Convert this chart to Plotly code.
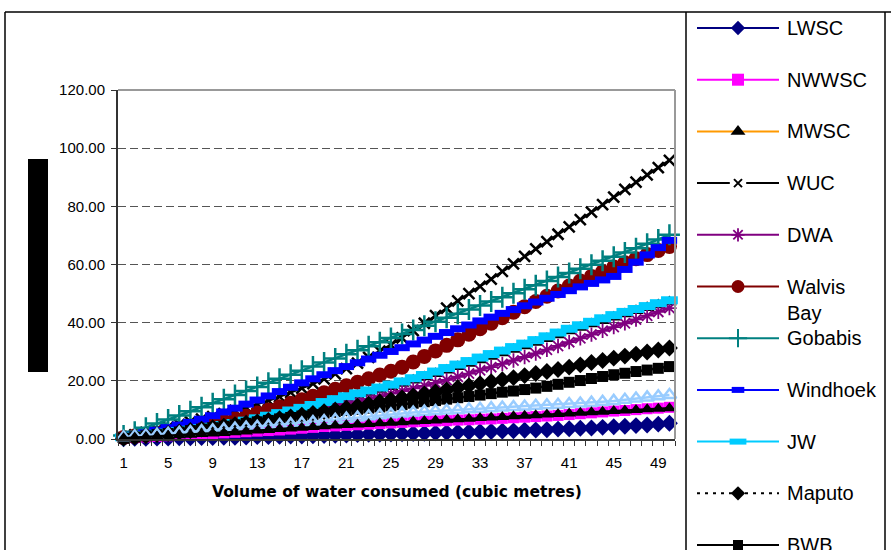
import plotly.graph_objects as go

# ---------------- data ----------------
volume = list(range(1, 51))
x_tick_vals = [1, 5, 9, 13, 17, 21, 25, 29, 33, 37, 41, 45, 49]
x_tick_labels = ["1", "5", "9", "13", "17", "21", "25", "29", "33", "37", "41", "45", "49"]

lwsc = [0.1, 0.2, 0.2, 0.3, 0.3, 0.4, 0.4, 0.5, 0.5, 0.6, 0.6, 0.7, 0.8, 0.8, 0.9, 1.0, 1.0, 1.1, 1.2, 1.3,
        1.4, 1.5, 1.6, 1.6, 1.7, 1.8, 1.9, 2.0, 2.1, 2.2, 2.3, 2.4, 2.5, 2.6, 2.7, 2.8, 3.0, 3.1, 3.2, 3.4,
        3.5, 3.7, 3.8, 4.0, 4.2, 4.4, 4.6, 4.8, 5.1, 5.4]
nwwsc = [0.3, 0.5, 0.7, 0.9, 1.1, 1.3, 1.5, 1.7, 1.9, 2.1, 2.3, 2.5, 2.7, 2.9, 3.1, 3.4, 3.7, 4.0, 4.3, 4.5,
         4.7, 4.9, 5.1, 5.3, 5.5, 5.7, 5.9, 6.0, 6.2, 6.3, 6.5, 6.6, 6.8, 6.9, 7.1, 7.3, 7.5, 7.7, 7.9, 8.1,
         8.4, 8.7, 9.0, 9.3, 9.6, 9.8, 10.1, 10.4, 10.6, 10.9]
mwsc = [0.5, 0.9, 1.3, 1.7, 2.1, 2.6, 3.1, 3.6, 4.1, 4.7, 5.4, 6.1, 6.9, 7.7, 8.6, 9.5, 10.4, 11.3, 12.2, 13.1,
        14.0, 15.0, 16.0, 17.0, 18.0, 19.1, 20.2, 21.3, 22.4, 23.6, 24.8, 26.0, 27.2, 28.4, 29.6, 30.8, 32.0, 33.2, 34.5, 35.8,
        37.1, 38.3, 39.5, 40.7, 41.9, 43.0, 44.1, 45.1, 46.1, 47.1]
wuc = [0.5, 1.4, 2.3, 3.2, 4.1, 5.0, 5.9, 6.8, 7.7, 8.7, 9.8, 10.9, 12.0, 13.2, 14.6, 16.0, 17.5, 19.0, 20.7, 22.4,
       24.2, 26.1, 28.1, 30.2, 32.4, 34.8, 37.3, 39.8, 42.4, 45.0, 47.5, 50.0, 52.5, 55.0, 57.6, 60.2, 62.8, 65.4, 67.9, 70.4,
       72.9, 75.4, 78.0, 80.6, 83.2, 85.8, 88.3, 90.8, 93.3, 95.8]
dwa = [0.4, 0.8, 1.2, 1.6, 2.0, 2.4, 2.9, 3.4, 3.9, 4.4, 5.0, 5.6, 6.2, 6.9, 7.6, 8.3, 9.0, 9.8, 10.6, 11.4,
       12.2, 13.0, 13.8, 14.7, 15.6, 16.5, 17.4, 18.3, 19.3, 20.3, 21.4, 22.5, 23.6, 24.7, 25.8, 27.0, 28.2, 29.4, 30.7, 32.0,
       33.3, 34.6, 35.9, 37.2, 38.5, 39.8, 41.1, 42.4, 43.7, 45.0]
walvis_bay = [0.5, 1.0, 1.5, 2.0, 2.5, 3.1, 3.8, 4.5, 5.3, 6.1, 6.9, 7.8, 8.9, 10.0, 11.1, 12.3, 13.5, 14.7, 15.9, 17.1,
              18.3, 19.5, 20.7, 22.0, 23.3, 24.7, 26.5, 28.4, 30.3, 32.2, 34.1, 36.0, 37.9, 39.8, 41.7, 43.6, 45.5, 47.3, 49.1, 50.9,
              52.6, 54.3, 55.9, 57.5, 59.1, 60.6, 62.0, 63.4, 64.8, 66.2]
gobabis = [1.2, 2.5, 3.9, 5.3, 6.7, 8.1, 9.5, 10.9, 12.3, 13.7, 15.1, 16.5, 17.9, 19.3, 20.7, 22.1, 23.5, 24.9, 26.3, 27.7,
           29.1, 30.5, 31.9, 33.3, 34.7, 36.1, 37.5, 38.9, 40.3, 41.7, 43.1, 44.5, 45.9, 47.3, 48.7, 50.1, 51.5, 52.9, 54.3, 55.7,
           57.1, 58.5, 59.9, 61.3, 62.7, 64.1, 65.6, 67.1, 68.6, 70.2]
windhoek = [0.6, 1.3, 2.1, 3.0, 3.9, 4.8, 5.7, 6.8, 8.0, 9.3, 10.6, 12.0, 13.4, 14.8, 16.3, 17.8, 19.3, 20.7, 22.1, 23.5,
            24.9, 26.2, 27.5, 28.8, 30.1, 31.4, 32.7, 34.0, 35.3, 36.6, 37.9, 39.2, 40.6, 41.9, 43.2, 44.5, 45.8, 47.1, 48.4, 49.7,
            51.0, 52.3, 53.5, 54.7, 55.9, 58.3, 60.8, 63.3, 65.8, 68.3]
jw = [0.6, 1.0, 1.4, 1.8, 2.2, 2.7, 3.2, 3.7, 4.2, 4.8, 5.5, 6.3, 7.1, 8.0, 8.9, 9.8, 10.7, 11.7, 12.7, 13.7,
      14.7, 15.7, 16.7, 17.7, 18.7, 19.8, 20.9, 22.0, 23.2, 24.4, 25.6, 26.8, 28.0, 29.2, 30.4, 31.6, 32.8, 34.0, 35.3, 36.6,
      37.9, 39.1, 40.3, 41.5, 42.6, 43.7, 44.7, 45.7, 46.7, 47.7]
maputo = [0.3, 0.7, 1.1, 1.5, 1.9, 2.4, 2.9, 3.4, 3.9, 4.4, 4.9, 5.4, 5.9, 6.4, 7.0, 7.6, 8.2, 8.8, 9.4, 10.0,
          10.6, 11.3, 12.0, 12.7, 13.4, 14.1, 14.8, 15.5, 16.2, 16.9, 17.6, 18.3, 19.0, 19.7, 20.4, 21.1, 21.8, 22.5, 23.2, 23.9,
          24.7, 25.5, 26.3, 27.0, 27.8, 28.5, 29.2, 29.9, 30.6, 31.3]
bwb = [0.3, 0.7, 1.1, 1.5, 1.9, 2.4, 2.9, 3.4, 3.9, 4.4, 4.9, 5.4, 5.9, 6.4, 6.9, 7.4, 7.9, 8.4, 8.9, 9.4,
       9.8, 10.2, 10.6, 11.0, 11.4, 11.8, 12.3, 12.8, 13.2, 13.7, 14.2, 14.6, 15.1, 15.6, 16.1, 16.5, 17.0, 17.5, 18.1, 18.8,
       19.5, 20.1, 20.8, 21.5, 22.1, 22.6, 23.2, 23.7, 24.3, 24.9]
# two further series whose legend entries fall below the visible area
extra_light_blue = [0.6, 0.9, 1.2, 1.5, 1.8, 2.1, 2.4, 2.7, 3.0, 3.3, 3.6, 3.9, 4.2, 4.5, 4.8, 5.1, 5.4, 5.8, 6.2, 6.6,
                    7.0, 7.4, 7.8, 8.2, 8.5, 8.8, 9.1, 9.4, 9.6, 9.8, 10.0, 10.2, 10.4, 10.6, 10.8, 11.0, 11.2, 11.4, 11.6, 11.8,
                    12.0, 12.2, 12.5, 12.8, 13.1, 13.5, 13.9, 14.3, 14.7, 15.1]
extra_black = [0.3, 0.5, 0.7, 0.9, 1.1, 1.3, 1.5, 1.7, 1.9, 2.1, 2.3, 2.6, 2.9, 3.1, 3.4, 3.6, 3.9, 4.1, 4.4, 4.6,
               4.8, 5.0, 5.2, 5.4, 5.6, 5.8, 6.0, 6.2, 6.4, 6.6, 6.8, 7.0, 7.2, 7.4, 7.6, 7.8, 8.0, 8.2, 8.4, 8.6,
               8.8, 9.0, 9.2, 9.4, 9.6, 9.8, 10.0, 10.2, 10.4, 10.6]

series_names = ["LWSC", "NWWSC", "MWSC", "WUC", "DWA", "Walvis Bay", "Gobabis", "Windhoek", "JW", "Maputo", "BWB"]
series_values = [lwsc, nwwsc, mwsc, wuc, dwa, walvis_bay, gobabis, windhoek, jw, maputo, bwb]

# ---------------- styles ----------------
styles = [
    dict(line="#000080", dash="solid", sym="diamond", size=13, mcol="#000080", lw=0, lsize=11),
    dict(line="#FF00FF", dash="solid", sym="square", size=11, mcol="#FF00FF", lw=0, lsize=12),
    dict(line="#FF9900", dash="solid", sym="triangle-up", size=13, mcol="#000000", lw=0, lsize=13),
    dict(line="#000000", dash="solid", sym="x-thin", size=11, mcol="#000000", lw=2.5, lsize=8),
    dict(line="#800080", dash="solid", sym="asterisk", size=12, mcol="#800080", lw=1.8, lsize=11),
    dict(line="#800000", dash="solid", sym="circle", size=15, mcol="#800000", lw=0, lsize=13),
    dict(line="#008080", dash="solid", sym="cross-thin", size=15, mcol="#008080", lw=2.5, lsize=13),
    dict(line="#0000FF", dash="solid", sym="line-ew", size=11, mcol="#0000FF", lw=7, lsize=9),
    dict(line="#00CCFF", dash="solid", sym="line-ew", size=12, mcol="#00CCFF", lw=8, lsize=12),
    dict(line="#000000", dash="3px,5px", sym="diamond", size=13, mcol="#000000", lw=0, lsize=11),
    dict(line="#000000", dash="solid", sym="square", size=11, mcol="#000000", lw=0, lsize=10),
]

W, H = 891, 550
PL, PR, PT, PB = 118, 675, 90, 439  # plot area in pixels


def fx(p):
    return p / W


def fy(p):
    return 1 - p / H


FONT = "Liberation Sans, Arial, sans-serif"

fig = go.Figure()

for name, vals, st in zip(series_names, series_values, styles):
    fig.add_trace(go.Scatter(
        x=volume, y=vals, name=name, mode="lines+markers",
        line=dict(color=st["line"], width=2.5, dash=st["dash"]),
        marker=dict(symbol=st["sym"], size=st["size"], color=st["mcol"],
                    line=dict(color=st["mcol"], width=st["lw"])),
        cliponaxis=False, showlegend=False,
    ))

fig.add_trace(go.Scatter(
    x=volume, y=extra_light_blue, mode="lines+markers",
    line=dict(color="#99CCFF", width=2.5),
    marker=dict(symbol="triangle-up-open", size=12, color="#99CCFF", line=dict(width=2.5)),
    cliponaxis=False, showlegend=False,
))
fig.add_trace(go.Scatter(
    x=volume, y=extra_black, mode="lines+markers",
    line=dict(color="#000000", width=2.5),
    marker=dict(symbol="triangle-up", size=12, color="#000000"),
    cliponaxis=False, showlegend=False,
))

# ---------------- manual legend (samples drawn on a hidden pair of axes) ----------------
LEG_TOP, LEG_STEP = 28, 51.7
annotations = []
for k, (name, st) in enumerate(zip(series_names, styles)):
    yk = LEG_TOP + LEG_STEP * k
    if name == "WUC":
        lx, ly = [0, 0.4, None, 0.6, 1], [yk, yk, None, yk, yk]
    else:
        lx, ly = [0, 1], [yk, yk]
    fig.add_trace(go.Scatter(
        x=lx, y=ly, xaxis="x2", yaxis="y2", mode="lines",
        line=dict(color=st["line"], width=2, dash=st["dash"]),
        showlegend=False, hoverinfo="skip", cliponaxis=False,
    ))
    fig.add_trace(go.Scatter(
        x=[0.5], y=[yk], xaxis="x2", yaxis="y2", mode="markers",
        marker=dict(symbol=st["sym"], size=st["lsize"], color=st["mcol"],
                    line=dict(color=st["mcol"], width=min(st["lw"], 2) if st["sym"] != "line-ew" else 6)),
        showlegend=False, hoverinfo="skip", cliponaxis=False,
    ))
    if name == "Walvis Bay":
        annotations.append(dict(x=fx(785), y=fy(yk - 12), xref="paper", yref="paper",
                                text="Walvis<br>Bay", showarrow=False, xanchor="left", yanchor="top",
                                align="left", font=dict(family=FONT, size=20, color="black")))
    else:
        annotations.append(dict(x=fx(785), y=fy(yk), xref="paper", yref="paper",
                                text=name, showarrow=False, xanchor="left", yanchor="middle",
                                align="left", font=dict(family=FONT, size=20, color="black")))

annotations.append(dict(
    x=(fx(PL) + fx(PR)) / 2, y=fy(492), xref="paper", yref="paper",
    text="<b>Volume of water consumed (cubic metres)</b>", showarrow=False,
    xanchor="center", yanchor="middle",
    font=dict(family="DejaVu Sans, sans-serif", size=15.5, color="black"),
))

shapes = [
    # chart and legend frames
    dict(type="line", xref="paper", yref="paper", x0=fx(5), x1=1, y0=fy(12), y1=fy(12),
         line=dict(color="black", width=1.5)),
    dict(type="line", xref="paper", yref="paper", x0=fx(5), x1=fx(5), y0=fy(12), y1=0,
         line=dict(color="black", width=1.5)),
    dict(type="line", xref="paper", yref="paper", x0=fx(686), x1=fx(686), y0=fy(12), y1=0,
         line=dict(color="black", width=1.5)),
    dict(type="line", xref="paper", yref="paper", x0=fx(885), x1=fx(885), y0=fy(12), y1=0,
         line=dict(color="black", width=1.5)),
    # plot-area frame (top and right)
    dict(type="line", xref="paper", yref="paper", x0=fx(PL), x1=fx(PR), y0=fy(PT), y1=fy(PT),
         line=dict(color="#999999", width=2)),
    dict(type="line", xref="paper", yref="paper", x0=fx(PR), x1=fx(PR), y0=fy(PT), y1=fy(PB),
         line=dict(color="#999999", width=2)),
    # obscured y-axis title block
    dict(type="rect", xref="paper", yref="paper", x0=fx(28), x1=fx(48), y0=fy(372), y1=fy(159),
         fillcolor="black", line=dict(width=0)),
]

fig.update_layout(
    width=W, height=H, autosize=False, margin=dict(l=0, r=0, t=0, b=0, autoexpand=False),
    paper_bgcolor="white", plot_bgcolor="white", showlegend=False,
    font=dict(family=FONT, color="black"),
    annotations=annotations, shapes=shapes,
    xaxis=dict(
        domain=[fx(PL), fx(PR)], range=[0.5, 50.5], anchor="y",
        tickmode="array", tickvals=x_tick_vals, ticktext=x_tick_labels,
        ticks="", ticklabelstandoff=9, tickfont=dict(family=FONT, size=15, color="black"),
        showgrid=False, zeroline=False, showline=True, linecolor="#333333", linewidth=2,
        minor=dict(tick0=0.5, dtick=1, ticks="outside", ticklen=5, tickcolor="#333333", tickwidth=1,
                   showgrid=False),
    ),
    yaxis=dict(
        domain=[fy(PB), fy(PT)], range=[0, 120], dtick=20, tickformat=".2f", anchor="x",
        ticks="outside", ticklen=5, tickcolor="#333333", tickwidth=1, ticklabelstandoff=3,
        tickfont=dict(family=FONT, size=15, color="black"),
        showgrid=True, gridcolor="#555555", gridwidth=1, griddash="8px,4px",
        zeroline=False, showline=True, linecolor="#333333", linewidth=2,
    ),
    xaxis2=dict(domain=[fx(697), fx(779)], range=[0, 1], anchor="y2", visible=False),
    yaxis2=dict(domain=[0, 1], range=[H, 0], anchor="x2", visible=False),
)

fig.write_html(
    "out.html",
    config={"displayModeBar": False},
    post_script="document.body.style.margin='0';document.body.style.overflow='hidden';",
)
